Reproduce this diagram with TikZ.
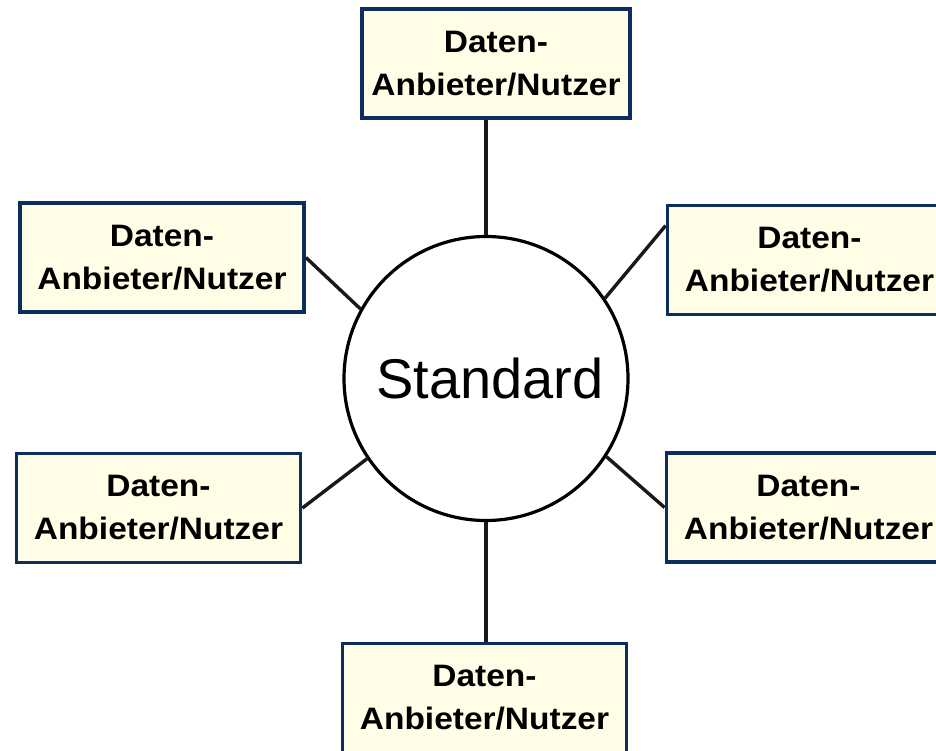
\documentclass[tikz,border=0pt]{standalone}
\usepackage{fontspec}
\setmainfont{Liberation Sans}
\newfontfamily\boxfont[FakeStretch=1.08]{Liberation Sans}
\definecolor{boxborder}{HTML}{0B2E5C}
\definecolor{boxfill}{HTML}{FFFDE6}
\begin{document}
\begin{tikzpicture}[x=1pt,y=-1pt,
  party/.style={draw=boxborder,fill=boxfill,line width=3.8pt,minimum width=284pt,minimum height=109pt,inner sep=0pt,align=center,font=\boxfont\bfseries\fontsize{31}{43}\selectfont},
  hub/.style={circle,draw=black,line width=3.2pt,minimum size=284pt,inner sep=0pt,font=\fontsize{56}{60}\selectfont},
  link/.style={draw=black!90,line width=3.4pt}]
\useasboundingbox (0,0) rectangle (936,750);
\clip (0,0) rectangle (936,750);
\node[hub] (c) at (486,378.5) {\hspace*{8pt}Standard};
\node[party,minimum width=268pt] (top) at (496,63.5) {Daten-\\Anbieter/Nutzer};
\node[party] (ul) at (162,257.5) {Daten-\\Anbieter/Nutzer};
\node[party] (ur) at (809.5,260) {Daten-\\Anbieter/Nutzer};
\node[party] (ll) at (158.5,508) {Daten-\\Anbieter/Nutzer};
\node[party] (lr) at (808.5,507.5) {Daten-\\Anbieter/Nutzer};
\node[party] (bot) at (484.5,698) {Daten-\\Anbieter/Nutzer};
\draw[link] (c.north) -- (c.north |- top.south);
\draw[link] (c.south) -- (c.south |- bot.north);
\draw[link] (c.151) -- (ul.east);
\draw[link] (c.34) -- ([yshift=-22pt]ur.north west);
\draw[link] (c.214) -- (ll.east);
\draw[link] (c.327) -- (lr.west);
\end{tikzpicture}
\end{document}
